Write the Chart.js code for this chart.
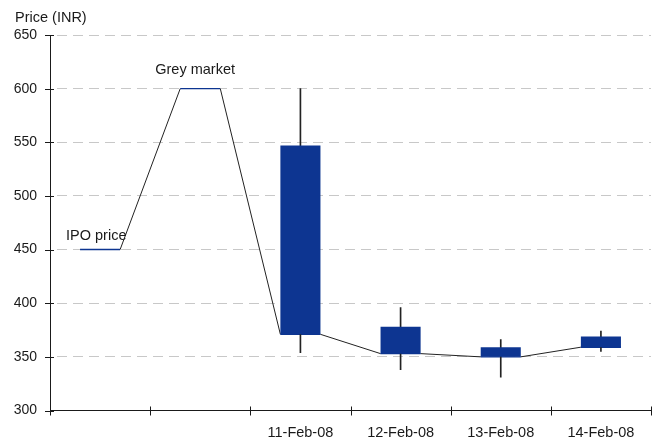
<!DOCTYPE html>
<html>
<head>
<meta charset="utf-8">
<title>Price (INR)</title>
<script src="https://cdn.jsdelivr.net/npm/chart.js@4.4.1/dist/chart.umd.min.js"></script>
<style>
  html, body { margin: 0; padding: 0; background: #ffffff; }
  #wrap { width: 670px; height: 442px; }
</style>
</head>
<body>
<div id="wrap"><canvas id="chart" width="670" height="442"></canvas></div>
<script>
// Trading days; the first two slots hold the IPO price and the grey-market quote
const categories = ['', '', '11-Feb-08', '12-Feb-08', '13-Feb-08', '14-Feb-08'];
// Session open / close (top and bottom of each body); flat for IPO and grey market
const openPrice  = [450, 600, 547, 378, 359, 369];
const closePrice = [450, 600, 371, 353, 350, 359];
// Intraday range (no range for IPO / grey market)
const highPrice  = [null, null, 600, 396, 366, 374];
const lowPrice   = [null, null, 354, 338, 331, 355];
// Value axis ticks
const yTicks = [300, 350, 400, 450, 500, 550, 600, 650];

const NAVY = '#0d3591';
const INK = '#1a1a1a';
const FONT = '"Liberation Sans", Arial, Helvetica, sans-serif';
const BODY_HALF = 0.2; // half of a candle body, in category units

const bodies = categories.map((_, i) =>
  i < 2 ? null : [closePrice[i], openPrice[i]]);
const wicks = categories.map((_, i) =>
  highPrice[i] == null ? null : [lowPrice[i], highPrice[i]]);

// Closing-price path: runs along the bottom of each body and links one day to the next
const closePath = [];
closePrice.forEach((v, i) => {
  closePath.push({ x: i - BODY_HALF, y: v }, { x: i + BODY_HALF, y: v });
});

const crisp = v => Math.round(v) + 0.5;

const decorations = {
  id: 'decorations',
  afterDraw(chart) {
    const { ctx, chartArea } = chart;
    const x = chart.scales.xl;
    const y = chart.scales.y;
    ctx.save();
    ctx.strokeStyle = INK;
    ctx.lineWidth = 1;
    ctx.beginPath();
    // value-axis tick marks crossing the axis
    yTicks.forEach(v => {
      const py = crisp(y.getPixelForValue(v));
      ctx.moveTo(chartArea.left - 5, py);
      ctx.lineTo(chartArea.left + 4, py);
    });
    // category boundary tick marks crossing the axis
    for (let i = 0; i <= categories.length; i++) {
      const px = crisp(x.getPixelForValue(i - 0.5));
      ctx.moveTo(px, chartArea.bottom - 4);
      ctx.lineTo(px, chartArea.bottom + 5);
    }
    ctx.stroke();

    ctx.fillStyle = INK;
    ctx.font = '14.5px ' + FONT;
    ctx.textAlign = 'left';
    ctx.textBaseline = 'alphabetic';
    ctx.fillText('Price (INR)', 15, 22);
    ctx.fillText('IPO price', x.getPixelForValue(0 - BODY_HALF) - 14, y.getPixelForValue(openPrice[0]) - 10);
    ctx.fillText('Grey market', x.getPixelForValue(1) - 45, y.getPixelForValue(openPrice[1]) - 15);
    ctx.restore();
  }
};

new Chart(document.getElementById('chart'), {
  data: {
    labels: categories,
    datasets: [
      {
        type: 'bar',
        data: bodies,
        backgroundColor: NAVY,
        borderWidth: 0,
        grouped: false,
        barPercentage: 0.4,
        categoryPercentage: 1.0,
        order: 0
      },
      {
        type: 'bar',
        data: wicks,
        backgroundColor: '#222222',
        borderWidth: 0,
        grouped: false,
        barThickness: 1,
        order: 1
      },
      {
        type: 'line',
        data: closePath,
        xAxisID: 'xl',
        borderWidth: 1,
        pointRadius: 0,
        tension: 0,
        fill: false,
        borderColor: '#222222',
        segment: {
          borderColor: c => (c.p0DataIndex % 2 === 0 ? NAVY : '#222222'),
          borderWidth: c => (c.p0DataIndex % 2 === 0 ? 1.4 : 1)
        },
        order: 2
      }
    ]
  },
  options: {
    responsive: false,
    animation: false,
    layout: { padding: { top: 35, right: 19, bottom: 0, left: 0 } },
    plugins: {
      legend: { display: false },
      tooltip: { enabled: false }
    },
    scales: {
      x: {
        type: 'category',
        offset: true,
        afterFit: s => { s.height = 31.5; },
        grid: { display: false, drawTicks: false, offset: true },
        border: { display: true, color: INK, width: 1 },
        ticks: {
          color: INK,
          font: { family: FONT, size: 14.5 },
          padding: 14,
          maxRotation: 0,
          autoSkip: false
        }
      },
      xl: {
        type: 'linear',
        display: false,
        min: -0.5,
        max: categories.length - 0.5
      },
      y: {
        min: 300,
        max: 650,
        afterFit: s => { s.width = 50; },
        afterBuildTicks: s => { s.ticks = yTicks.map(v => ({ value: v })); },
        grid: {
          drawTicks: false,
          color: c => (c.tick && c.tick.value === 300 ? 'rgba(0,0,0,0)' : '#c8c8c8')
        },
        border: { display: true, color: INK, width: 1, dash: [10, 6], dashOffset: -6 },
        ticks: {
          color: INK,
          font: { family: FONT, size: 14 },
          padding: 13
        }
      }
    }
  },
  plugins: [decorations]
});
</script>
</body>
</html>
